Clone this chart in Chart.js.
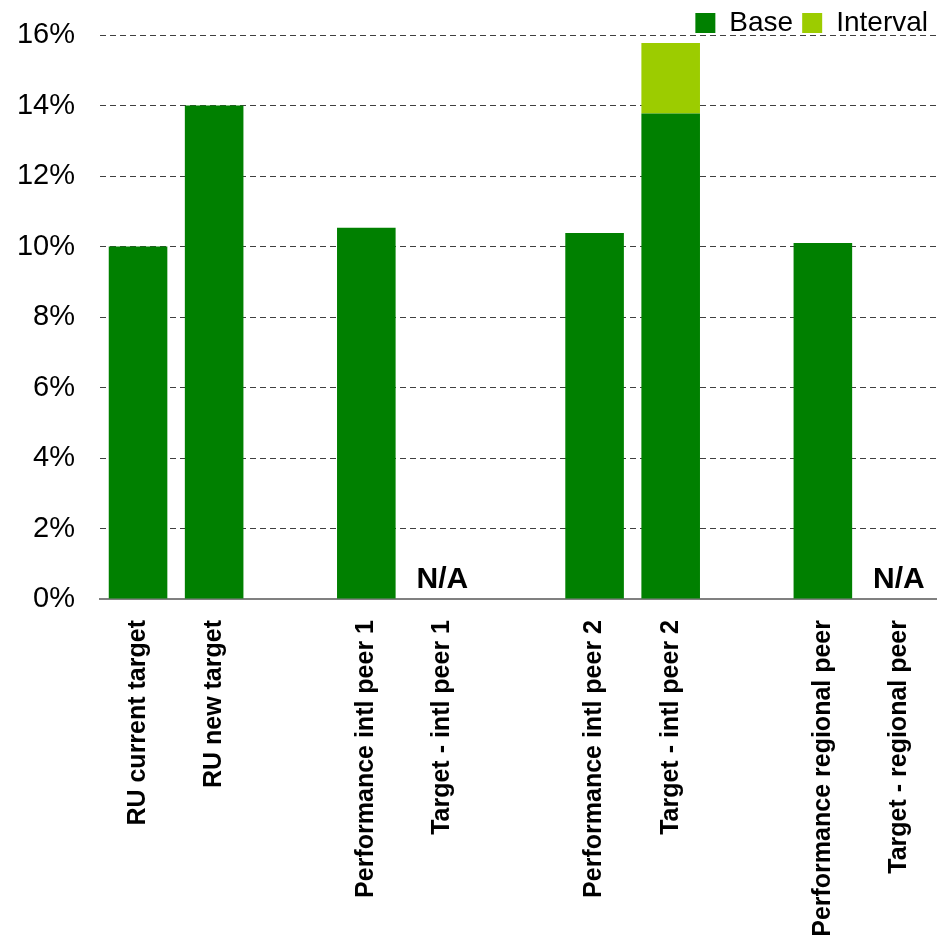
<!DOCTYPE html>
<html>
<head>
<meta charset="utf-8">
<script src="https://cdn.jsdelivr.net/npm/chart.js@4/dist/chart.umd.min.js"></script>
<style>
  body { margin: 0; background: #fff; }
  #chart { display: block; }
</style>
</head>
<body>
<canvas id="chart" width="937" height="940"></canvas>
<script>
// blank labels are the gaps between groups
var categories = ['RU current target', 'RU new target', '', 'Performance intl peer 1', 'Target - intl peer 1', '',
                  'Performance intl peer 2', 'Target - intl peer 2', '', 'Performance regional peer', 'Target - regional peer'];
var baseValues = [10, 14, null, 10.53, null, null, 10.38, 13.77, null, 10.1, null];
var intervalValues = [null, null, null, null, null, null, null, 2.0, null, null, null];
var barNotes = ['', '', '', '', 'N/A', '', '', '', '', '', 'N/A'];
var yTicks = [0, 2, 4, 6, 8, 10, 12, 14, 16];

var fontFamily = "Arial, 'Liberation Sans', sans-serif";

var notesPlugin = {
  id: 'barNotes',
  afterDatasetsDraw: function(chart){
    var ctx = chart.ctx;
    var xs = chart.scales.x, ys = chart.scales.y;
    ctx.save();
    ctx.font = 'bold 30px ' + fontFamily;
    ctx.fillStyle = '#000';
    ctx.textAlign = 'center';
    ctx.textBaseline = 'alphabetic';
    for(var i=0; i<barNotes.length; i++){
      if(!barNotes[i]) continue;
      ctx.fillText(barNotes[i], xs.getPixelForValue(i), ys.getPixelForValue(0) - 11);
    }
    ctx.restore();
  }
};

var myChart = new Chart(document.getElementById('chart'), {
  type: 'bar',
  data: {
    labels: categories,
    datasets: [{
      label: 'Base',
      data: baseValues,
      backgroundColor: '#008000',
      borderWidth: 0,
      barPercentage: 0.77,
      categoryPercentage: 1
    },
    {
      label: 'Interval',
      data: intervalValues,
      backgroundColor: '#9ccc00',
      borderWidth: 0,
      barPercentage: 0.77,
      categoryPercentage: 1
    }]
  },
  options: {
    responsive: false,
    animation: false,
    layout: { padding: 0 },
    plugins: {
      legend: {
        position: 'top',
        align: 'end',
        maxHeight: 35,
        labels: {
          boxWidth: 20,
          boxHeight: 20,
          padding: 9,
          color: '#000',
          font: { family: fontFamily, size: 28 }
        }
      },
      tooltip: { enabled: false }
    },
    scales: {
      x: {
        stacked: true,
        afterFit: function(scale){ scale.height = 341; scale.paddingRight = 0; scale.paddingLeft = 0; },
        grid: { display: true, drawOnChartArea: false, drawTicks: false },
        border: { display: true, color: '#808080', width: 2 },
        ticks: {
          autoSkip: false,
          maxRotation: 90,
          minRotation: 90,
          padding: 21,
          color: '#000',
          font: { family: fontFamily, size: 25, weight: 'bold' }
        }
      },
      y: {
        stacked: true,
        min: 0,
        max: 16,
        afterFit: function(scale){ scale.width = 100; scale.paddingTop = 0; scale.paddingBottom = 0; },
        afterBuildTicks: function(scale){
          scale.ticks = yTicks.map(function(v){ return { value: v }; });
        },
        grid: { color: '#404040', lineWidth: 1, drawTicks: false },
        border: { display: false, dash: [6, 4] },
        ticks: {
          padding: 25,
          color: '#000',
          font: { family: fontFamily, size: 29 },
          callback: function(v){ return v + '%'; }
        }
      }
    }
  },
  plugins: [notesPlugin]
});
</script>
</body>
</html>
